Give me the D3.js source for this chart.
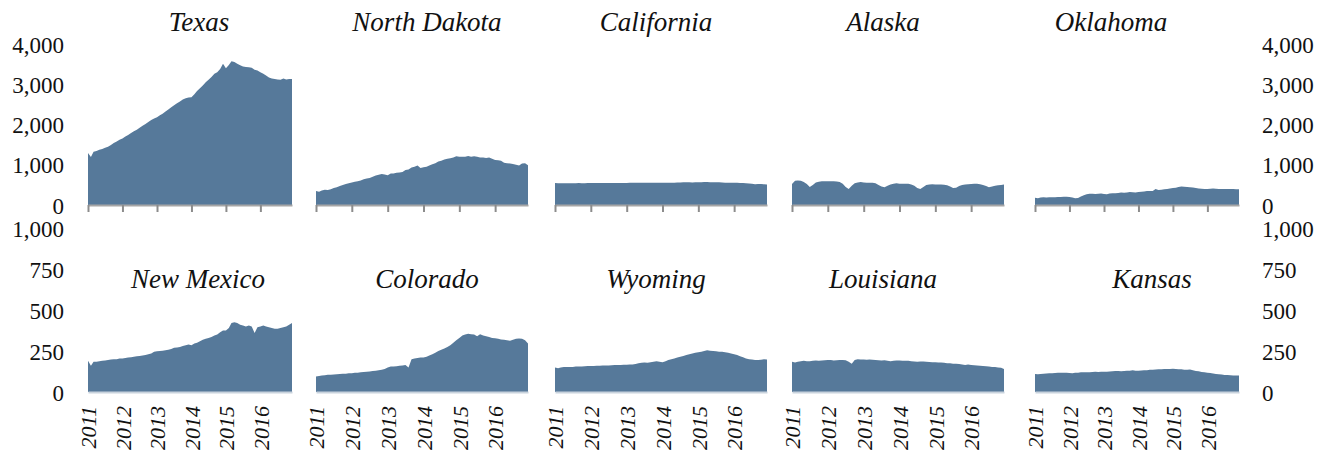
<!DOCTYPE html>
<html>
<head>
<meta charset="utf-8">
<script src="https://cdn.jsdelivr.net/npm/d3@7"></script>
</head>
<body style="margin:0; background:#fff">
<div id="chart"></div>
<script>
// thousand barrels per day, monthly Jan 2011 - Dec 2016
var topStates = ["Texas", "North Dakota", "California", "Alaska", "Oklahoma"]
var bottomStates = ["New Mexico", "Colorado", "Wyoming", "Louisiana", "Kansas"]
var years = [2011, 2012, 2013, 2014, 2015, 2016]
var topTicks = [0, 1000, 2000, 3000, 4000]
var bottomTicks = [0, 250, 500, 750, 1000]

var texas = [
  1290, 1190, 1320, 1340, 1370, 1390, 1420, 1450, 1490, 1540, 1580, 1620,
  1650, 1700, 1740, 1790, 1830, 1870, 1920, 1970, 2010, 2060, 2110, 2150,
  2180, 2230, 2270, 2320, 2370, 2430, 2480, 2530, 2570, 2620, 2650, 2670,
  2680, 2750, 2830, 2900, 2970, 3050, 3110, 3180, 3260, 3300, 3380, 3510,
  3400, 3480, 3570, 3550, 3510, 3470, 3440, 3430, 3420, 3410, 3360, 3340,
  3300, 3260, 3220, 3170, 3140, 3130, 3120, 3110, 3140, 3120, 3130, 3130]
var northDakota = [
  345, 330, 360, 380, 370, 390, 420, 440, 470, 500, 520, 540,
  560, 580, 590, 610, 640, 660, 670, 700, 730, 750, 770, 760,
  740, 780, 780, 800, 810, 820, 870, 880, 930, 950, 980, 920,
  940, 950, 980, 1010, 1040, 1080, 1100, 1130, 1150, 1160, 1180, 1210,
  1200, 1200, 1200, 1220, 1200, 1210, 1200, 1180, 1180, 1170, 1180, 1150,
  1120, 1110, 1100, 1050, 1040, 1030, 1020, 1000, 980, 1030, 1040, 990]
var california = [
  545, 540, 540, 540, 540, 540, 540, 540, 545, 540, 540, 545,
  545, 545, 545, 545, 545, 545, 545, 545, 545, 545, 545, 545,
  545, 550, 550, 550, 550, 550, 550, 550, 550, 550, 550, 550,
  555, 555, 555, 555, 555, 560, 560, 565, 565, 565, 560, 565,
  565, 565, 570, 570, 565, 565, 565, 565, 560, 555, 555, 555,
  550, 550, 545, 545, 540, 535, 530, 515, 520, 520, 515, 510]
var alaska = [
  520, 600, 610, 600, 570, 520, 450, 500, 560, 580, 590, 590,
  590, 590, 590, 585, 570, 530, 450, 400, 480, 540, 560, 570,
  560, 555, 550, 550, 540, 500, 460, 440, 480, 510, 530, 540,
  530, 530, 525, 525, 510, 480, 420, 400, 450, 500, 510, 515,
  510, 510, 510, 505, 490, 460, 420, 430, 470, 500, 510, 515,
  520, 525, 525, 515, 500, 470, 440, 460, 480, 490, 500, 510]
var oklahoma = [
  180, 170, 185, 190, 185, 190, 195, 195, 200, 200, 205, 205,
  200, 185, 165, 175, 210, 240, 270, 280, 280, 275, 280, 285,
  275, 270, 285, 290, 295, 300, 310, 305, 310, 320, 315, 310,
  320, 330, 335, 345, 350, 345, 400, 370, 380, 390, 400, 410,
  420, 430, 445, 460, 455, 450, 440, 435, 420, 410, 405, 400,
  400, 405, 410, 405, 400, 400, 395, 395, 395, 395, 390, 390]
var newMexico = [
  190, 160, 185, 185, 188, 190, 192, 195, 198, 200, 200, 205,
  205, 208, 210, 212, 215, 218, 220, 222, 225, 230, 235, 245,
  248, 250, 252, 255, 258, 262, 270, 272, 275, 280, 285, 290,
  285, 295, 300, 310, 318, 325, 330, 335, 345, 350, 365, 375,
  375, 390, 420, 425, 420, 410, 405, 400, 405, 400, 360, 395,
  400, 405, 400, 395, 390, 385, 385, 390, 395, 400, 410, 420]
var colorado = [
  95, 98, 100, 102, 105, 105, 107, 108, 110, 112, 112, 115,
  115, 117, 118, 120, 122, 124, 125, 128, 130, 132, 135, 140,
  150, 155, 155, 157, 160, 162, 165, 150, 200, 205, 208, 210,
  210, 215, 222, 230, 240, 250, 258, 265, 275, 285, 300, 315,
  330, 345, 350, 355, 352, 350, 340, 352, 345, 340, 335, 330,
  327, 325, 320, 318, 315, 312, 318, 325, 326, 325, 315, 295]
var wyoming = [
  150, 145, 150, 152, 152, 153, 153, 155, 155, 156, 157, 158,
  158, 159, 160, 160, 161, 162, 162, 163, 164, 165, 165, 166,
  166, 167, 168, 170, 175, 178, 180, 178, 182, 185, 188, 185,
  182, 188, 195, 200, 205, 210, 215, 220, 225, 230, 235, 240,
  242, 245, 250, 255, 252, 250, 248, 245, 245, 242, 240, 235,
  230, 225, 218, 212, 205, 200, 198, 195, 195, 197, 200, 198]
var louisiana = [
  185, 180, 185, 188, 190, 188, 187, 190, 192, 190, 192, 193,
  195, 195, 192, 193, 195, 195, 193, 185, 172, 195, 200, 198,
  198, 197, 198, 196, 195, 193, 192, 193, 190, 188, 190, 192,
  192, 190, 190, 190, 188, 186, 185, 186, 186, 185, 183, 182,
  182, 180, 180, 178, 176, 175, 173, 172, 170, 168, 165, 167,
  165, 163, 162, 160, 158, 157, 155, 153, 152, 150, 148, 140]
var kansas = [
  110, 108, 110, 112, 113, 114, 115, 116, 117, 117, 118, 118,
  116, 115, 118, 118, 120, 120, 121, 121, 122, 123, 122, 123,
  124, 124, 125, 127, 128, 128, 127, 128, 130, 130, 132, 130,
  130, 131, 132, 133, 135, 136, 137, 138, 139, 140, 140, 141,
  142, 140, 139, 138, 136, 135, 137, 132, 128, 126, 122, 120,
  118, 116, 113, 110, 108, 106, 104, 103, 102, 101, 100, 100]

var topSeries = [texas, northDakota, california, alaska, oklahoma]
var bottomSeries = [newMexico, colorado, wyoming, louisiana, kansas]

var months = d3.utcMonths(new Date(Date.UTC(2011, 0, 1)), new Date(Date.UTC(2017, 0, 1)))

// layout
var W = 1333, H = 453
var FONT = "Liberation Serif"
var panelLeft  = [88, 316, 555, 792, 1035],
    panelWidth = [204, 212, 212, 212, 204]
var rows = [
  {states: topStates, series: topSeries, max: 4000, ticks: topTicks, y0: 205, y1: 44,
   titleY: 31, titleX: [199, 427, 656, 883, 1111], labels: false},
  {states: bottomStates, series: bottomSeries, max: 1000, ticks: bottomTicks, y0: 392, y1: 228,
   titleY: 288, titleX: [198, 427, 656, 883, 1152], labels: true}
]
var fillColor = "#56799a"

var svg = d3.select("#chart").append("svg")
  .attr("width", W)
  .attr("height", H)
  .style("display", "block")

function styleNumbers(g) {
  g.attr("font-family", FONT).attr("font-size", 23)
  g.selectAll("text").attr("fill", "#111").attr("dy", "0.35em")
}

rows.forEach(row => {
  var y = d3.scaleLinear()
    .domain([0, row.max])
    .range([row.y0, row.y1])

  var fmt = d3.format(",")

  svg.append("g")
    .attr("transform", "translate(64,0)")
    .call(d3.axisLeft(y).tickValues(row.ticks).tickFormat(fmt).tickSize(0).tickPadding(0))
    .call(g => g.select(".domain").remove())
    .call(styleNumbers)

  svg.append("g")
    .attr("transform", "translate(1262,0)")
    .call(d3.axisRight(y).tickValues(row.ticks).tickFormat(fmt).tickSize(0).tickPadding(0))
    .call(g => g.select(".domain").remove())
    .call(styleNumbers)

  row.states.forEach((st, i) => {
    var x = d3.scaleUtc()
      .domain([months[0], months[months.length - 1]])
      .range([panelLeft[i], panelLeft[i] + panelWidth[i]])

    var data = row.series[i].map((v, j) => ({date: months[j], value: v}))

    var area = d3.area()
      .x(d => x(d.date))
      .y0(y(0))
      .y1(d => y(d.value))

    svg.append("path")
      .datum(data)
      .attr("fill", fillColor)
      .attr("d", area)

    var yearDates = years.map(yr => new Date(Date.UTC(yr, 0, 1)))

    var xa = svg.append("g")
      .attr("transform", "translate(0," + row.y0 + ")")

    if (!row.labels) {
      xa.call(d3.axisBottom(x).tickValues(yearDates).tickSize(7).tickSizeOuter(0).tickFormat(""))
      xa.select(".domain").attr("stroke", "#a6a6a6").attr("stroke-width", 2)
      xa.selectAll(".tick line").attr("stroke", "#8c8c8c").attr("stroke-width", 2)
    } else {
      xa.call(d3.axisBottom(x).tickValues(yearDates).tickSize(0).tickSizeOuter(0)
          .tickFormat(d3.utcFormat("%Y")))
      xa.attr("font-family", FONT).attr("font-size", 22)
      xa.select(".domain").attr("stroke", "#c9d3dd").attr("stroke-width", 2)
      xa.selectAll("text")
        .attr("fill", "#111")
        .attr("font-style", "italic")
        .attr("transform", "rotate(-90)")
        .attr("text-anchor", "end")
        .attr("x", -14)
        .attr("y", 0)
        .attr("dy", "0.35em")
    }

    svg.append("text")
      .attr("font-family", FONT)
      .attr("font-size", 27)
      .attr("font-style", "italic")
      .attr("fill", "#111")
      .attr("x", row.titleX[i])
      .attr("y", row.titleY)
      .attr("text-anchor", "middle")
      .text(st)
  })
})
</script>
</body>
</html>
